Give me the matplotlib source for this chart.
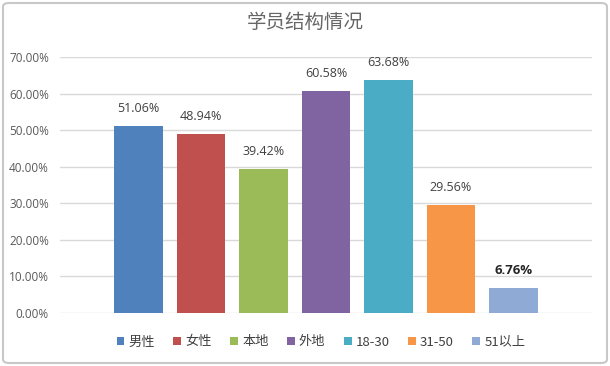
import matplotlib
matplotlib.use("Agg")
import matplotlib.pyplot as plt
from matplotlib.patches import Patch, FancyBboxPatch

plt.rcParams['font.family'] = ['Noto Sans CJK SC', 'DejaVu Sans']

categories = ['男性', '女性', '本地', '外地', '18-30', '31-50', '51以上']
values = [51.06, 48.94, 39.42, 60.58, 63.68, 29.56, 6.76]
labels = ['51.06%', '48.94%', '39.42%', '60.58%', '63.68%', '29.56%', '6.76%']
colors = ['#4F81BD', '#C0504D', '#9BBB59', '#8064A2', '#4BACC6', '#F79646', '#8FAAD4']
yticks = [0, 10, 20, 30, 40, 50, 60, 70]
yticklabels = ['0.00%', '10.00%', '20.00%', '30.00%', '40.00%', '50.00%', '60.00%', '70.00%']

fig = plt.figure(figsize=(6.1, 3.66), dpi=100)
fig.patch.set_facecolor('white')
ax = fig.add_axes([60/610, 1-313/366, (592-60)/610, (313-57)/366])

x = list(range(len(categories)))
bars = ax.bar(x, values, width=0.78, color=colors, zorder=3)
for i, (b, lab) in enumerate(zip(bars, labels)):
    last = (i == len(bars) - 1)
    ax.annotate(lab, (b.get_x() + b.get_width()/2, b.get_height()),
                xytext=(0, 8), textcoords='offset points', ha='center', va='bottom',
                fontsize=9.5 if last else 9,
                color='#262626' if last else '#404040',
                fontweight='bold' if last else 'normal',
                family=['Open Sans', 'DejaVu Sans'])

ax.set_ylim(0, 70)
ax.set_xlim(-1.254, 7.254)
ax.set_yticks(yticks)
ax.set_yticklabels(yticklabels, fontsize=8.5, color='#595959', family=['Open Sans', 'DejaVu Sans'])
ax.set_xticks([])
ax.tick_params(axis='y', length=0, pad=8)
ax.grid(axis='y', color='#D9D9D9', linewidth=1, zorder=0)
for s in ax.spines.values():
    s.set_visible(False)

handles = [Patch(facecolor=c, edgecolor='none') for c in colors]
fig.legend(handles, categories, loc='center', bbox_to_anchor=(321/610, 1-342/366),
           ncol=7, frameon=False, fontsize=9.5, handlelength=0.6, handleheight=0.6,
           handletextpad=0.3, columnspacing=1.4, labelcolor='#404040')

fig.text(305/610, 1-22/366, '学员结构情况', ha='center', va='center', fontsize=14,
         color='#666666', fontweight='light')

frame = FancyBboxPatch((3/610, 3/366), 604/610, 360/366, boxstyle='round,pad=0,rounding_size=0.01',
                       transform=fig.transFigure, facecolor='none', edgecolor='#C8C8C8', linewidth=1.5)
fig.patches.append(frame)

fig.savefig('out.png', dpi=100)
